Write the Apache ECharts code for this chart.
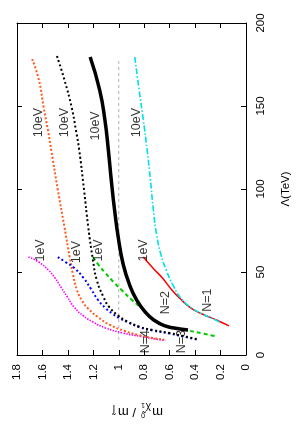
<!DOCTYPE html>
<html>
<head>
<meta charset="utf-8">
<script src="https://cdn.jsdelivr.net/npm/echarts@6/dist/echarts.min.js"></script>
<style>
html,body{margin:0;padding:0;background:#fff;}
#c{width:300px;height:427px;}
</style>
</head>
<body>
<div id="c"></div>
<script>
// ---- data: [mass ratio m_chi/m_slepton, Lambda (TeV)] ----
var ratioTicks = [0, 0.2, 0.4, 0.6, 0.8, 1, 1.2, 1.4, 1.6, 1.8];
var lambdaTicks = [0, 50, 100, 150, 200];

var n1_1eV = [[0.807,59.0],[0.732,52.4],[0.657,46.4],[0.583,39.2],[0.523,34.3],[0.433,28.3],[0.344,24.7],[0.232,21.1],[0.134,17.5]];
var n1_10eV = [[0.874,179.5],[0.840,159.6],[0.807,141.6],[0.777,123.5],[0.751,105.4],[0.728,87.3],[0.702,72.3],[0.668,60.2],[0.627,51.2],[0.575,42.2],[0.500,33.1],[0.426,28.3],[0.344,24.7],[0.239,21.1],[0.209,19.9]];
var n2_10eV = [[1.225,179.5],[1.150,159.6],[1.109,141.6],[1.082,123.5],[1.059,105.4],[1.033,87.3],[1.001,69.3],[0.964,54.2],[0.915,42.2],[0.859,33.1],[0.792,25.9],[0.725,21.1],[0.635,17.5],[0.553,16.1],[0.456,15.1]];
var n2_1eV = [[1.203,59.0],[1.158,54.2],[1.105,49.4],[1.042,44.0],[0.978,39.2],[0.896,33.1],[0.822,28.3],[0.792,25.9],[0.725,21.1],[0.635,17.5],[0.553,16.1],[0.456,14.8],[0.351,13.1],[0.246,11.4]];
var n3_10eV = [[1.486,180.1],[1.427,165.7],[1.371,149.4],[1.337,135.5],[1.311,123.5],[1.273,99.4],[1.240,77.1],[1.203,57.2],[1.173,45.2],[1.120,34.9],[1.075,28.9],[1.001,23.5],[0.934,20.3],[0.837,17.0],[0.732,15.0],[0.598,13.2],[0.493,11.4],[0.388,9.6]];
var n3_1eV = [[1.479,59.0],[1.419,56.0],[1.352,52.6],[1.277,46.4],[1.217,39.6],[1.165,33.4],[1.105,28.3],[1.046,24.7],[0.993,22.1],[0.926,19.6],[0.837,16.7],[0.732,14.7],[0.598,12.9],[0.493,11.1],[0.388,9.3]];
var n4_10eV = [[1.681,178.3],[1.628,165.7],[1.591,149.4],[1.557,135.5],[1.531,123.5],[1.479,99.4],[1.427,77.1],[1.386,59.0],[1.359,48.2],[1.329,39.2],[1.292,33.1],[1.240,27.9],[1.165,22.9],[1.068,18.1],[0.956,14.5],[0.844,12.0],[0.732,10.2],[0.642,9.3]];
var n4_1eV = [[1.710,59.0],[1.628,56.0],[1.554,51.2],[1.501,46.4],[1.456,41.0],[1.404,34.9],[1.352,28.9],[1.277,23.5],[1.203,19.9],[1.105,16.3],[0.971,13.3],[0.822,11.1],[0.710,9.6],[0.635,8.7]];
var refLine = [[1,9],[1,179]];

// annotation texts anchored in data units
var annotations = [
  [1.628,140,'10eV'],[1.427,140,'10eV'],[1.18,138,'10eV'],[0.859,140,'10eV'],
  [1.613,63,'1eV'],[1.33,62,'1eV'],[1.158,63,'1eV'],[0.807,63,'1eV'],
  [0.306,33,'N=1'],[0.635,31.5,'N=2'],[0.508,8,'N=3'],[0.79,8,'N=4']
];

var FONT = 'Liberation Sans, Arial, Helvetica, sans-serif';

function line(data, color, width, type, z) {
  return {
    type: 'line', data: data, smooth: 0.5, showSymbol: false, symbol: 'none',
    silent: true, z: z || 2, clip: false,
    lineStyle: { color: color, width: width, type: type, cap: 'butt' }
  };
}

var axisCommon = {
  axisLine: { show: true, onZero: false, lineStyle: { color: '#000', width: 1 } },
  axisTick: { show: true, inside: true, length: 5, lineStyle: { color: '#000', width: 1 } },
  splitLine: { show: false }
};

var chart = echarts.init(document.getElementById('c'), null, { renderer: 'canvas' });
chart.setOption({
  animation: false,
  backgroundColor: '#fff',
  grid: { left: 17, right: 42, top: 23, bottom: 72, containLabel: false },
  xAxis: [
    Object.assign({
      type: 'value', min: ratioTicks[0], max: ratioTicks[ratioTicks.length-1], interval: 0.2,
      inverse: true, position: 'bottom',
      axisLabel: { show: true, rotate: 90, margin: 9, fontSize: 11.5, color: '#000', fontFamily: FONT,
        showMinLabel: true, showMaxLabel: true,
        formatter: function (v) { return String(Math.round(v * 10) / 10); } }
    }, axisCommon),
    Object.assign({
      type: 'value', min: ratioTicks[0], max: ratioTicks[ratioTicks.length-1], interval: 0.2,
      inverse: true, position: 'top', axisLabel: { show: false }
    }, axisCommon)
  ],
  yAxis: [
    Object.assign({
      type: 'value', min: lambdaTicks[0], max: lambdaTicks[lambdaTicks.length-1], interval: 50,
      position: 'right',
      name: 'Λ(TeV)', nameLocation: 'middle', nameRotate: 90, nameGap: 34,
      nameTextStyle: { fontSize: 11.5, color: '#000', fontFamily: FONT },
      axisLabel: { show: true, rotate: 90, margin: 9, fontSize: 11.5, color: '#000', fontFamily: FONT,
        showMinLabel: true, showMaxLabel: true }
    }, axisCommon),
    Object.assign({
      type: 'value', min: lambdaTicks[0], max: lambdaTicks[lambdaTicks.length-1], interval: 50,
      position: 'left', axisLabel: { show: false }
    }, axisCommon)
  ],
  series: [
    line(refLine, '#9a9a9a', 0.8, [3, 3], 1),
    line(n4_1eV, '#ff00ff', 1.6, [1.5, 1.3]),
    line(n4_10eV, '#ff5a1e', 2, [2, 2]),
    line(n3_1eV, '#0000ff', 2, [2, 2.5]),
    line(n3_10eV, '#000000', 2, [2, 2.5]),
    line(n2_1eV, '#00cc00', 2, [4, 3]),
    line(n2_10eV, '#000000', 3.5, 'solid', 3),
    line(n1_1eV, '#ff0000', 1.5, 'solid'),
    line(n1_10eV, '#00e0e8', 1.6, [6, 2, 1.5, 2]),
    {
      type: 'scatter', data: annotations, symbolSize: 0, silent: true, z: 5, clip: false,
      label: {
        show: true, position: 'inside', rotate: 90,
        formatter: function (p) { return p.data[2]; },
        fontSize: 12.5, color: '#000', fontFamily: FONT
      },
      labelLayout: { hideOverlap: false }
    }
  ]
});

// upside-down axis title for the ratio axis
chart.setOption({
  graphic: [{
    type: 'group', x: 137, y: 412, rotation: Math.PI, silent: true,
    children: [
      { type: 'text', x: -26, y: 0, style: { text: 'm', fontSize: 13, fontFamily: FONT, fill: '#000', verticalAlign: 'middle', align: 'left' } },
      { type: 'text', x: -14, y: 4, style: { text: 'χ̃', fontSize: 10, fontFamily: FONT, fill: '#000', verticalAlign: 'middle', align: 'left' } },
      { type: 'text', x: -8, y: -3, style: { text: '0', fontSize: 7, fontFamily: FONT, fill: '#000', verticalAlign: 'middle', align: 'left' } },
      { type: 'text', x: -8, y: 7, style: { text: '1', fontSize: 7, fontFamily: FONT, fill: '#000', verticalAlign: 'middle', align: 'left' } },
      { type: 'text', x: 1, y: 0, style: { text: '/ m', fontSize: 13, fontFamily: FONT, fill: '#000', verticalAlign: 'middle', align: 'left' } },
      { type: 'text', x: 22, y: 4, style: { text: 'l̃', fontSize: 10, fontFamily: FONT, fill: '#000', verticalAlign: 'middle', align: 'left' } }
    ]
  }]
});
</script>
</body>
</html>
